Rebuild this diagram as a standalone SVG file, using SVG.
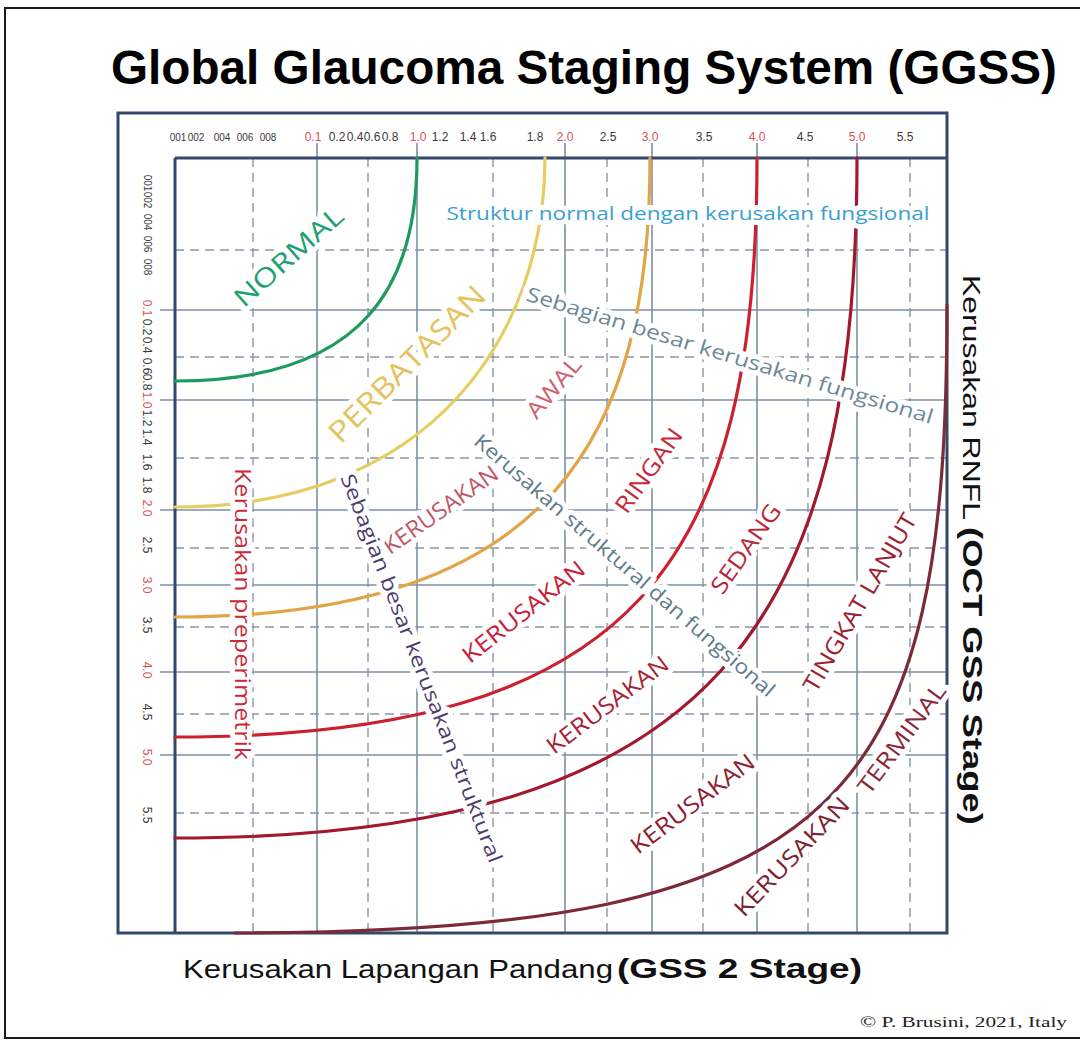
<svg xmlns="http://www.w3.org/2000/svg" width="1080" height="1041" viewBox="0 0 1080 1041">
<defs>
<style>
.gs{stroke:#7d90a6;stroke-width:1.6;fill:none}
.gd{stroke:#8a96a3;stroke-width:1.4;stroke-dasharray:9 6;fill:none}
.frame{fill:none;stroke:#33486a;stroke-width:3}
.curve{fill:none;stroke-width:3.2;stroke-linecap:round}
.ax{font-family:"Liberation Sans",Arial,sans-serif;font-size:12px;fill:#3a3a3a;text-anchor:middle}
.axs{font-size:10px}
.axr{fill:#d6505a}
.lab{font-family:"Open Sans","DejaVu Sans",sans-serif;text-anchor:middle;dominant-baseline:central;paint-order:stroke;stroke:#fff;stroke-width:10;stroke-linejoin:round}
.cap{font-size:23px}
.mix{font-size:20px}
</style>
</defs>
<rect width="1080" height="1041" fill="#fff"/>
<rect x="5" y="8" width="1100" height="1030" fill="none" stroke="#1a1a1a" stroke-width="2"/>

<g id="title">
<text x="584" y="84" text-anchor="middle" font-family="Liberation Sans, Arial, sans-serif" font-weight="bold" font-size="47.5" textLength="946" lengthAdjust="spacingAndGlyphs" fill="#000">Global Glaucoma Staging System (GGSS)</text>
</g>

<g id="grid">
<g class="gd">
<line x1="253" y1="158" x2="253" y2="933"/><line x1="368" y1="158" x2="368" y2="933"/><line x1="493" y1="158" x2="493" y2="933"/><line x1="607" y1="158" x2="607" y2="933"/><line x1="703" y1="158" x2="703" y2="933"/><line x1="808" y1="158" x2="808" y2="933"/><line x1="910" y1="158" x2="910" y2="933"/>
<line x1="175" y1="250" x2="947" y2="250"/><line x1="175" y1="357" x2="947" y2="357"/><line x1="175" y1="458" x2="947" y2="458"/><line x1="175" y1="548" x2="947" y2="548"/><line x1="175" y1="627" x2="947" y2="627"/><line x1="175" y1="714" x2="947" y2="714"/><line x1="175" y1="813" x2="947" y2="813"/>
</g>
<g class="gs">
<line x1="317" y1="143" x2="317" y2="933"/><line x1="417" y1="143" x2="417" y2="933"/><line x1="565" y1="143" x2="565" y2="933"/><line x1="652" y1="143" x2="652" y2="933"/><line x1="757" y1="143" x2="757" y2="933"/><line x1="857" y1="143" x2="857" y2="933"/>
<line x1="160" y1="310" x2="947" y2="310"/><line x1="160" y1="400" x2="947" y2="400"/><line x1="160" y1="510" x2="947" y2="510"/><line x1="160" y1="585" x2="947" y2="585"/><line x1="160" y1="672" x2="947" y2="672"/><line x1="160" y1="755" x2="947" y2="755"/>
</g>
</g>

<g id="frame">
<rect class="frame" x="118" y="113" width="829" height="820"/>
<line class="frame" x1="175" y1="158" x2="947" y2="158"/>
<line class="frame" x1="175" y1="158" x2="175" y2="933"/>
</g>

<g id="top-axis" class="ax">
<text class="axs" x="178" y="141">001</text><text class="axs" x="196" y="141">002</text><text class="axs" x="222" y="141">004</text><text class="axs" x="245" y="141">006</text><text class="axs" x="268" y="141">008</text>
<text class="axr" x="313" y="141">0.1</text><text x="337" y="141">0.2</text><text x="355" y="141">0.4</text><text x="372" y="141">0.6</text><text x="390" y="141">0.8</text>
<text class="axr" x="418" y="141">1.0</text><text x="440" y="141">1.2</text><text x="468" y="141">1.4</text><text x="488" y="141">1.6</text><text x="535" y="141">1.8</text>
<text class="axr" x="565" y="141">2.0</text><text x="608" y="141">2.5</text><text class="axr" x="650" y="141">3.0</text><text x="704" y="141">3.5</text>
<text class="axr" x="757" y="141">4.0</text><text x="805" y="141">4.5</text><text class="axr" x="857" y="141">5.0</text><text x="905" y="141">5.5</text>
</g>

<g id="left-axis" class="ax" dominant-baseline="central">
<text class="axs" transform="translate(147,183) rotate(90)">001</text><text class="axs" transform="translate(147,200) rotate(90)">002</text><text class="axs" transform="translate(147,222) rotate(90)">004</text><text class="axs" transform="translate(147,244) rotate(90)">006</text><text class="axs" transform="translate(147,267) rotate(90)">008</text>
<text class="axr" transform="translate(147,308) rotate(90)">0.1</text><text transform="translate(147,327) rotate(90)">0.2</text><text transform="translate(147,345) rotate(90)">0.4</text><text transform="translate(147,366) rotate(90)">0.6</text><text transform="translate(147,382) rotate(90)">0.8</text>
<text class="axr" transform="translate(147,400) rotate(90)">1.0</text><text transform="translate(147,418) rotate(90)">1.2</text><text transform="translate(147,437) rotate(90)">1.4</text><text transform="translate(147,462) rotate(90)">1.6</text><text transform="translate(147,485) rotate(90)">1.8</text>
<text class="axr" transform="translate(147,508) rotate(90)">2.0</text><text transform="translate(147,545) rotate(90)">2.5</text><text class="axr" transform="translate(147,585) rotate(90)">3.0</text><text transform="translate(147,625) rotate(90)">3.5</text>
<text class="axr" transform="translate(147,670) rotate(90)">4.0</text><text transform="translate(147,712) rotate(90)">4.5</text><text class="axr" transform="translate(147,757) rotate(90)">5.0</text><text transform="translate(147,815) rotate(90)">5.5</text>
</g>

<g id="connectors">
<path id="curve-normal" class="curve" stroke="#1f9a5e" d="M175,381 C369,381 417,280 417,158"/>
<path id="curve-perbatasan" class="curve" stroke="#e6cd62" d="M175,507 C434,507 545,332 545,158"/>
<path id="curve-awal" class="curve" stroke="#e3a447" d="M175,617 C555,617 650,433 650,158"/>
<path id="curve-ringan" class="curve" stroke="#cc2030" d="M175,737 C640,737 757,560 757,158"/>
<path id="curve-sedang" class="curve" stroke="#a3182c" d="M175,838 C720,838 857,620 857,158"/>
<path id="curve-lanjut" class="curve" stroke="#7c2a38" d="M235,933 C850,933 947,800 947,305"/>
</g>

<g id="lbl-normal"><text class="lab" font-size="26" fill="#1fa070" textLength="136" lengthAdjust="spacingAndGlyphs" transform="translate(288,256) rotate(-41.5)">NORMAL</text></g>
<g id="lbl-struktur-normal"><text class="lab" font-size="19" fill="#3aa0d0" textLength="483" lengthAdjust="spacingAndGlyphs" transform="translate(688,213)">Struktur normal dengan kerusakan fungsional</text></g>
<g id="lbl-perbatasan"><text class="lab" font-size="29" fill="#e4c25e" textLength="208" lengthAdjust="spacingAndGlyphs" transform="translate(406,363) rotate(-45)">PERBATASAN</text></g>
<g id="lbl-sebagian-fungsional"><text class="lab mix" fill="#6e8898" textLength="424" lengthAdjust="spacingAndGlyphs" transform="translate(730,355) rotate(17)">Sebagian besar kerusakan fungsional</text></g>
<g id="lbl-awal"><text class="lab cap" fill="#d06070" textLength="72" lengthAdjust="spacingAndGlyphs" transform="translate(553,387) rotate(-50)">AWAL</text></g>
<g id="lbl-struktural-fungsional"><text class="lab mix" fill="#5d7c88" textLength="390" lengthAdjust="spacingAndGlyphs" transform="translate(625,565) rotate(40.8)">Kerusakan struktural dan fungsional</text></g>
<g id="lbl-ringan"><text class="lab cap" fill="#c8283c" textLength="98" lengthAdjust="spacingAndGlyphs" transform="translate(648,470) rotate(-54.5)">RINGAN</text></g>
<g id="lbl-kerusakan-awal"><text class="lab cap" font-size="22" fill="#c05868" textLength="135" lengthAdjust="spacingAndGlyphs" transform="translate(440,509) rotate(-35.3)">KERUSAKAN</text></g>
<g id="lbl-sebagian-struktural"><text class="lab mix" fill="#4a3d70" textLength="415" lengthAdjust="spacingAndGlyphs" transform="translate(422,668) rotate(68.9)">Sebagian besar kerusakan struktural</text></g>
<g id="lbl-preperimetrik"><text class="lab" font-size="21" fill="#c82a3a" stroke-width="24" textLength="292" lengthAdjust="spacingAndGlyphs" transform="translate(243,614) rotate(90)">Kerusakan preperimetrik</text></g>
<g id="lbl-kerusakan-ringan"><text class="lab cap" fill="#c82038" textLength="149" lengthAdjust="spacingAndGlyphs" transform="translate(523,611) rotate(-38.2)">KERUSAKAN</text></g>
<g id="lbl-sedang"><text class="lab cap" fill="#b82838" textLength="104" lengthAdjust="spacingAndGlyphs" transform="translate(745,548) rotate(-54.8)">SEDANG</text></g>
<g id="lbl-kerusakan-sedang"><text class="lab cap" fill="#a82034" textLength="146" lengthAdjust="spacingAndGlyphs" transform="translate(607,704) rotate(-37)">KERUSAKAN</text></g>
<g id="lbl-tingkat-lanjut"><text class="lab cap" fill="#9a2030" textLength="202" lengthAdjust="spacingAndGlyphs" transform="translate(859,602) rotate(-59.8)">TINGKAT LANJUT</text></g>
<g id="lbl-kerusakan-lanjut"><text class="lab cap" fill="#8e2030" textLength="149" lengthAdjust="spacingAndGlyphs" transform="translate(692,803) rotate(-37.1)">KERUSAKAN</text></g>
<g id="lbl-terminal"><text class="lab cap" fill="#8a2838" textLength="131" lengthAdjust="spacingAndGlyphs" transform="translate(901,738) rotate(-53.4)">TERMINAL</text></g>
<g id="lbl-kerusakan-terminal"><text class="lab cap" fill="#7a2432" textLength="155" lengthAdjust="spacingAndGlyphs" transform="translate(791,856) rotate(-46.3)">KERUSAKAN</text></g>

<g id="x-axis-title">
<text x="183" y="978" font-family="Liberation Sans, Arial, sans-serif" font-size="25" textLength="430" lengthAdjust="spacingAndGlyphs" fill="#111">Kerusakan Lapangan Pandang</text>
<text x="617" y="978" font-family="Liberation Sans, Arial, sans-serif" font-weight="bold" font-size="27" textLength="245" lengthAdjust="spacingAndGlyphs" fill="#111">(GSS 2 Stage)</text>
</g>
<g id="y-axis-title">
<text transform="translate(963,275) rotate(90)" font-family="Liberation Sans, Arial, sans-serif" font-size="24" textLength="245" lengthAdjust="spacingAndGlyphs" fill="#111">Kerusakan RNFL</text>
<text transform="translate(963,527) rotate(90)" font-family="Liberation Sans, Arial, sans-serif" font-weight="bold" font-size="28" textLength="298" lengthAdjust="spacingAndGlyphs" fill="#111">(OCT GSS Stage)</text>
</g>
<g id="copyright">
<text x="860" y="1027" font-family="Liberation Serif, Times New Roman, serif" font-size="15" textLength="207" lengthAdjust="spacingAndGlyphs" fill="#222">© P. Brusini, 2021, Italy</text>
</g>
</svg>
